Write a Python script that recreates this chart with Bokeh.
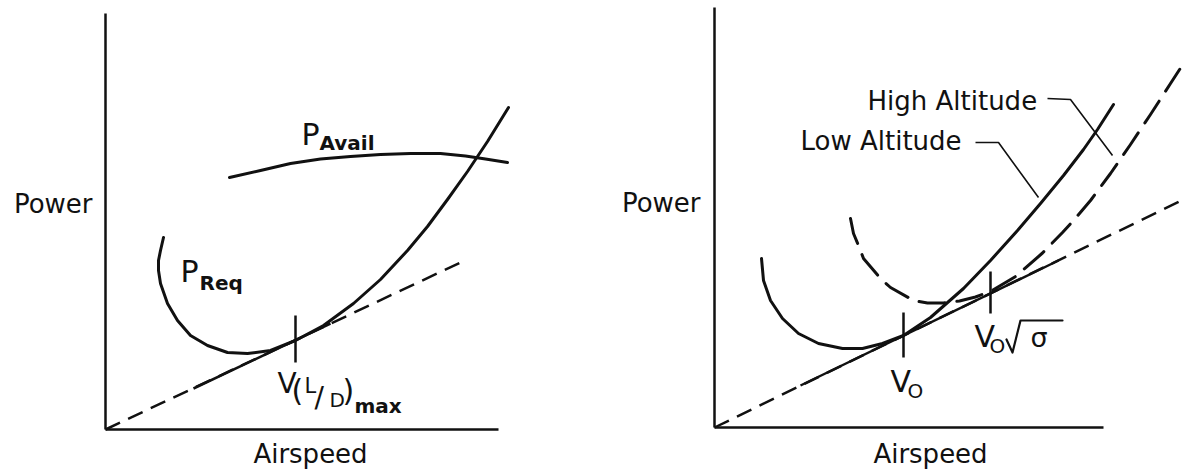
from bokeh.plotting import figure
from bokeh.models import LinearAxis, FixedTicker, Range1d
from bokeh.layouts import row
from bokeh.embed import file_html
from bokeh.resources import INLINE
from bokeh.core.properties import value

FONT = value("DejaVu Sans")
INK = "#111111"
# the svg text baseline sits a little low; lift labels by this fraction of their size
BASE_LIFT = 0.36

# ---------------- left panel: power required / available ----------------
preq_v = [58, 55, 53, 53, 55, 62, 72, 85, 102, 122, 142, 165, 190, 218, 248, 275, 302, 322, 342, 362, 382, 403]
preq_p = [192, 179, 169, 159, 146, 126, 109, 94, 84, 77, 76, 79, 89, 104, 126, 150, 179, 203, 230, 258, 288, 322]

pavail_v = [124, 155, 185, 215, 245, 275, 305, 335, 360, 380, 402]
pavail_p = [252, 259, 266, 270.5, 273, 275, 276, 276, 273.5, 270.5, 267]

tangent_v = [0, 355]
tangent_p = [0, 167]
tangent_solid_v = [88, 225]
tangent_solid_p = [41, 106]

ld_tick_v = [190, 190]
ld_tick_p = [67, 114]

left_axis_v = 393
left_axis_p = 416

# ---------------- right panel: effect of altitude ----------------
low_v = [47, 49, 56, 68, 84, 104, 128, 148, 168, 189, 216, 249, 276, 303, 326, 349, 369, 383, 399]
low_p = [169, 147, 127, 109, 94, 84, 79, 79, 84, 92, 110, 139, 167, 197, 224, 252, 278, 298, 323]

high_v = [136, 139, 144, 149, 166, 176, 199, 213, 229, 245, 261, 276, 301, 328, 348, 359, 376, 396, 416, 436, 456, 469]
high_p = [209, 194, 182, 169, 149, 140, 127, 124.5, 124.5, 126.5, 130.5, 136, 151, 174.5, 195, 207, 227, 254, 283, 313, 344, 364]

tangent2_v = [0, 469]
tangent2_p = [0, 228]
tangent2_solid_v = [86, 344]
tangent2_solid_p = [42, 167]

v0_tick_v = [189, 189]
v0_tick_p = [70, 115]
v0s_tick_v = [276, 276]
v0s_tick_p = [114, 156]

low_leader_v = [261, 284, 324]
low_leader_p = [285, 285, 230]
high_leader_v = [333, 356, 398]
high_leader_p = [329, 328, 272]

right_axis_v = 389
right_axis_p = 420


def make_panel(x_range, y_range):
    return figure(width=593, height=475, x_range=Range1d(*x_range), y_range=Range1d(*y_range),
                  x_axis_type=None, y_axis_type=None, toolbar_location=None,
                  output_backend="svg", min_border=0, outline_line_color=None,
                  background_fill_color="white", border_fill_color="white")


def add_axes(p, x_len, y_len):
    for side, length in (("below", x_len), ("left", y_len)):
        ax = LinearAxis(fixed_location=0, bounds=(0, length), ticker=FixedTicker(ticks=[]),
                        axis_line_width=2.5, axis_line_color=INK,
                        major_tick_line_color=None, minor_tick_line_color=None,
                        major_tick_out=0, major_tick_in=0, minor_tick_out=0, minor_tick_in=0,
                        major_label_text_font_size="0px", major_label_standoff=0)
        p.add_layout(ax, side)


def txt(p, x, y, s, size, bold=False, align="left"):
    p.text(x=[x], y=[y + BASE_LIFT * size], text=[s], text_font=FONT,
           text_font_size=f"{size}px", text_font_style="bold" if bold else "normal",
           text_align=align, text_baseline="alphabetic", text_color=INK)


CURVE = dict(line_color=INK, line_width=3, line_cap="round", line_join="round")

# ---- left ----
p1 = make_panel((-105, 488), (-46, 429))
add_axes(p1, left_axis_v, left_axis_p)
p1.line(tangent_v, tangent_p, line_color=INK, line_width=2.5, line_dash="16 9")
p1.line(tangent_solid_v, tangent_solid_p, line_color=INK, line_width=2.5)
p1.line(preq_v, preq_p, **CURVE)
p1.line(pavail_v, pavail_p, **CURVE)
p1.line(ld_tick_v, ld_tick_p, line_color=INK, line_width=2.5)

txt(p1, -13, 216, "Power", 26, align="right")
txt(p1, 205, -34, "Airspeed", 26, align="center")
txt(p1, 196, 284, "P", 30)
txt(p1, 214, 279, "Avail", 20, bold=True)
txt(p1, 75, 147, "P", 30)
txt(p1, 94, 139, "Req", 20, bold=True)
txt(p1, 172, 36, "V", 28)
txt(p1, 186, 28, "(", 30)
txt(p1, 199, 36, "L", 21)
txt(p1, 209, 22, "/", 28)
txt(p1, 224, 22, "D", 20)
txt(p1, 237, 28, ")", 30)
txt(p1, 249, 16, "max", 20, bold=True)

# ---- right ----
p2 = make_panel((-121, 472), (-48, 427))
add_axes(p2, right_axis_v, right_axis_p)
p2.line(tangent2_v, tangent2_p, line_color=INK, line_width=2.5, line_dash="16 9")
p2.line(tangent2_solid_v, tangent2_solid_p, line_color=INK, line_width=2.5)
p2.line(low_v, low_p, **CURVE)
p2.line(high_v, high_p, line_dash="26 12", **CURVE)
p2.line(v0_tick_v, v0_tick_p, line_color=INK, line_width=2.5)
p2.line(v0s_tick_v, v0s_tick_p, line_color=INK, line_width=2.5)

# label leaders: short horizontal run after the text, then a slanted pointer
p2.line(low_leader_v, low_leader_p, line_color=INK, line_width=1.6)
p2.line(high_leader_v, high_leader_p, line_color=INK, line_width=1.6)

txt(p2, -14, 215, "Power", 26, align="right")
txt(p2, 216, -36, "Airspeed", 26, align="center")
txt(p2, 153, 317, "High Altitude", 26)
txt(p2, 86, 277, "Low Altitude", 26)
txt(p2, 176, 35, "V", 30)
txt(p2, 193, 29, "O", 20)
txt(p2, 260, 80, "V", 30)
txt(p2, 275, 74, "O", 20)
txt(p2, 316, 80, "\u03c3", 27)
# radical sign over sigma, drawn as a stroke beside the V_O sqrt(sigma) label
p2.line([292, 298, 306, 348], [88, 75, 107, 107], line_color=INK, line_width=2.2,
        line_join="round", line_cap="round")

layout = row(p1, p2)
open("out.html", "w").write(file_html(layout, INLINE))
